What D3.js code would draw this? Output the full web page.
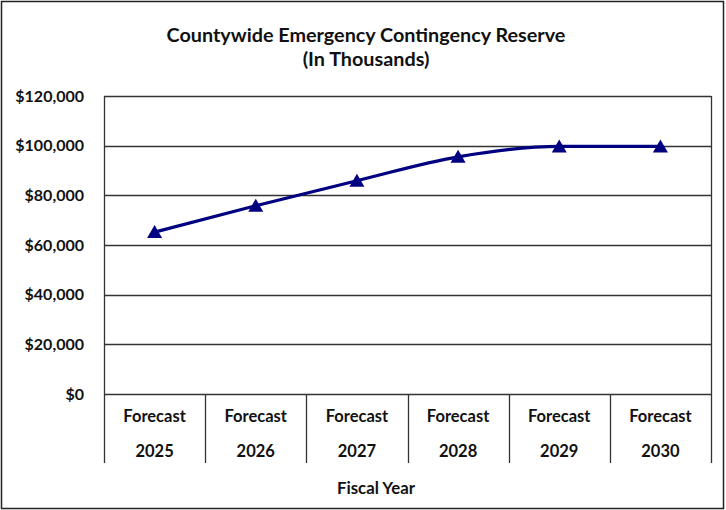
<!DOCTYPE html>
<html>
<head>
<meta charset="utf-8">
<script src="https://cdn.jsdelivr.net/npm/d3@7"></script>
<style>
  body { margin: 0; background: #fff; }
  svg { display: block; font-family: Lato, "Open Sans", sans-serif; }
</style>
</head>
<body>
<div id="container"></div>
<script>
/* chart data */
const categories = ["2025", "2026", "2027", "2028", "2029", "2030"]
const catPrefix = "Forecast"
const reserveValues = [65200, 75800, 85900, 95500, 99700, 99700]
const yTicks = [0, 20000, 40000, 60000, 80000, 100000, 120000]
const titleLines = ["Countywide Emergency Contingency Reserve", "(In Thousands)"]
const xTitle = "Fiscal Year"

/* layout */
const W = 726
const H = 510
const plot = {left: 104, top: 96, right: 711, bottom: 394}
const catBottom = 463

const svg = d3.select("#container")
              .append("svg")
              .attr("width", W)
              .attr("height", H);

/* outer frame */
svg.append("rect")
   .attr("x", 1.5).attr("y", 1.5)
   .attr("width", W - 4).attr("height", H - 3)
   .attr("fill", "#fff").attr("stroke", "#222").attr("stroke-width", 1.5);

const x = d3.scaleBand()
            .domain(categories)
            .range([plot.left, plot.right]);
const y = d3.scaleLinear()
            .domain([0, 120000])
            .range([plot.bottom, plot.top]);

/* gridlines */
svg.append("g").selectAll("line")
   .data(yTicks)
   .enter()
   .append("line")
   .attr("x1", plot.left).attr("x2", plot.right)
   .attr("y1", d => Math.round(y(d)) + 0.5).attr("y2", d => Math.round(y(d)) + 0.5)
   .attr("stroke", "#333").attr("stroke-width", 1.3);

/* plot border right side */
svg.append("line")
   .attr("x1", plot.right + 0.5).attr("x2", plot.right + 0.5)
   .attr("y1", plot.top).attr("y2", catBottom)
   .attr("stroke", "#333").attr("stroke-width", 1.3);

/* category separators */
const seps = categories.map(c => x(c));
svg.append("g").selectAll("line")
   .data(seps)
   .enter()
   .append("line")
   .attr("x1", d => Math.round(d) + 0.5).attr("x2", d => Math.round(d) + 0.5)
   .attr("y1", d => d === plot.left ? plot.top : plot.bottom)
   .attr("y2", catBottom)
   .attr("stroke", "#333").attr("stroke-width", 1.3);

/* y axis labels */
const yAxis = d3.axisLeft(y)
                .tickValues(yTicks)
                .tickSize(0)
                .tickPadding(0)
                .tickFormat(d => "$" + d3.format(",")(d));
const yg = svg.append("g")
              .attr("transform", "translate(84,0)")
              .call(yAxis);
yg.select(".domain").remove();
yg.selectAll("text")
  .attr("font-size", 16)
  .attr("font-weight", "bold")
  .attr("fill", "#111")
  .attr("font-family", "Lato, sans-serif");

/* category labels */
const cats = svg.append("g").selectAll("g")
   .data(categories)
   .enter()
   .append("g")
   .attr("transform", d => "translate(" + (x(d) + x.bandwidth() / 2) + ",0)");
cats.append("text")
    .attr("y", 422)
    .attr("text-anchor", "middle")
    .attr("font-size", 16.5)
    .attr("font-weight", "bold")
    .attr("fill", "#111")
    .text(catPrefix);
cats.append("text")
    .attr("y", 457)
    .attr("text-anchor", "middle")
    .attr("font-size", 16.5)
    .attr("font-weight", "bold")
    .attr("fill", "#111")
    .text(d => d);

/* titles */
svg.append("g").selectAll("text")
   .data(titleLines)
   .enter()
   .append("text")
   .attr("x", 366)
   .attr("y", (d, i) => 42 + i * 24)
   .attr("text-anchor", "middle")
   .attr("font-size", 19.8)
   .attr("font-weight", "bold")
   .attr("fill", "#111")
   .text(d => d);

svg.append("text")
   .attr("x", 376)
   .attr("y", 494)
   .attr("text-anchor", "middle")
   .attr("font-size", 16.8)
   .attr("font-weight", "bold")
   .attr("fill", "#111")
   .text(xTitle);

/* line series */
const pts = categories.map((c, i) => [x(c) + x.bandwidth() / 2, y(reserveValues[i])]);
const line = d3.line().curve(d3.curveMonotoneX);
svg.append("path")
   .attr("d", line(pts))
   .attr("fill", "none")
   .attr("stroke", "#000080")
   .attr("stroke-width", 3.2);

svg.append("g").selectAll("path")
   .data(pts)
   .enter()
   .append("path")
   .attr("transform", d => "translate(" + d[0] + "," + d[1] + ")")
   .attr("d", "M0,-7L7.5,6L-7.5,6Z")
   .attr("fill", "#000080");
</script>
</body>
</html>
